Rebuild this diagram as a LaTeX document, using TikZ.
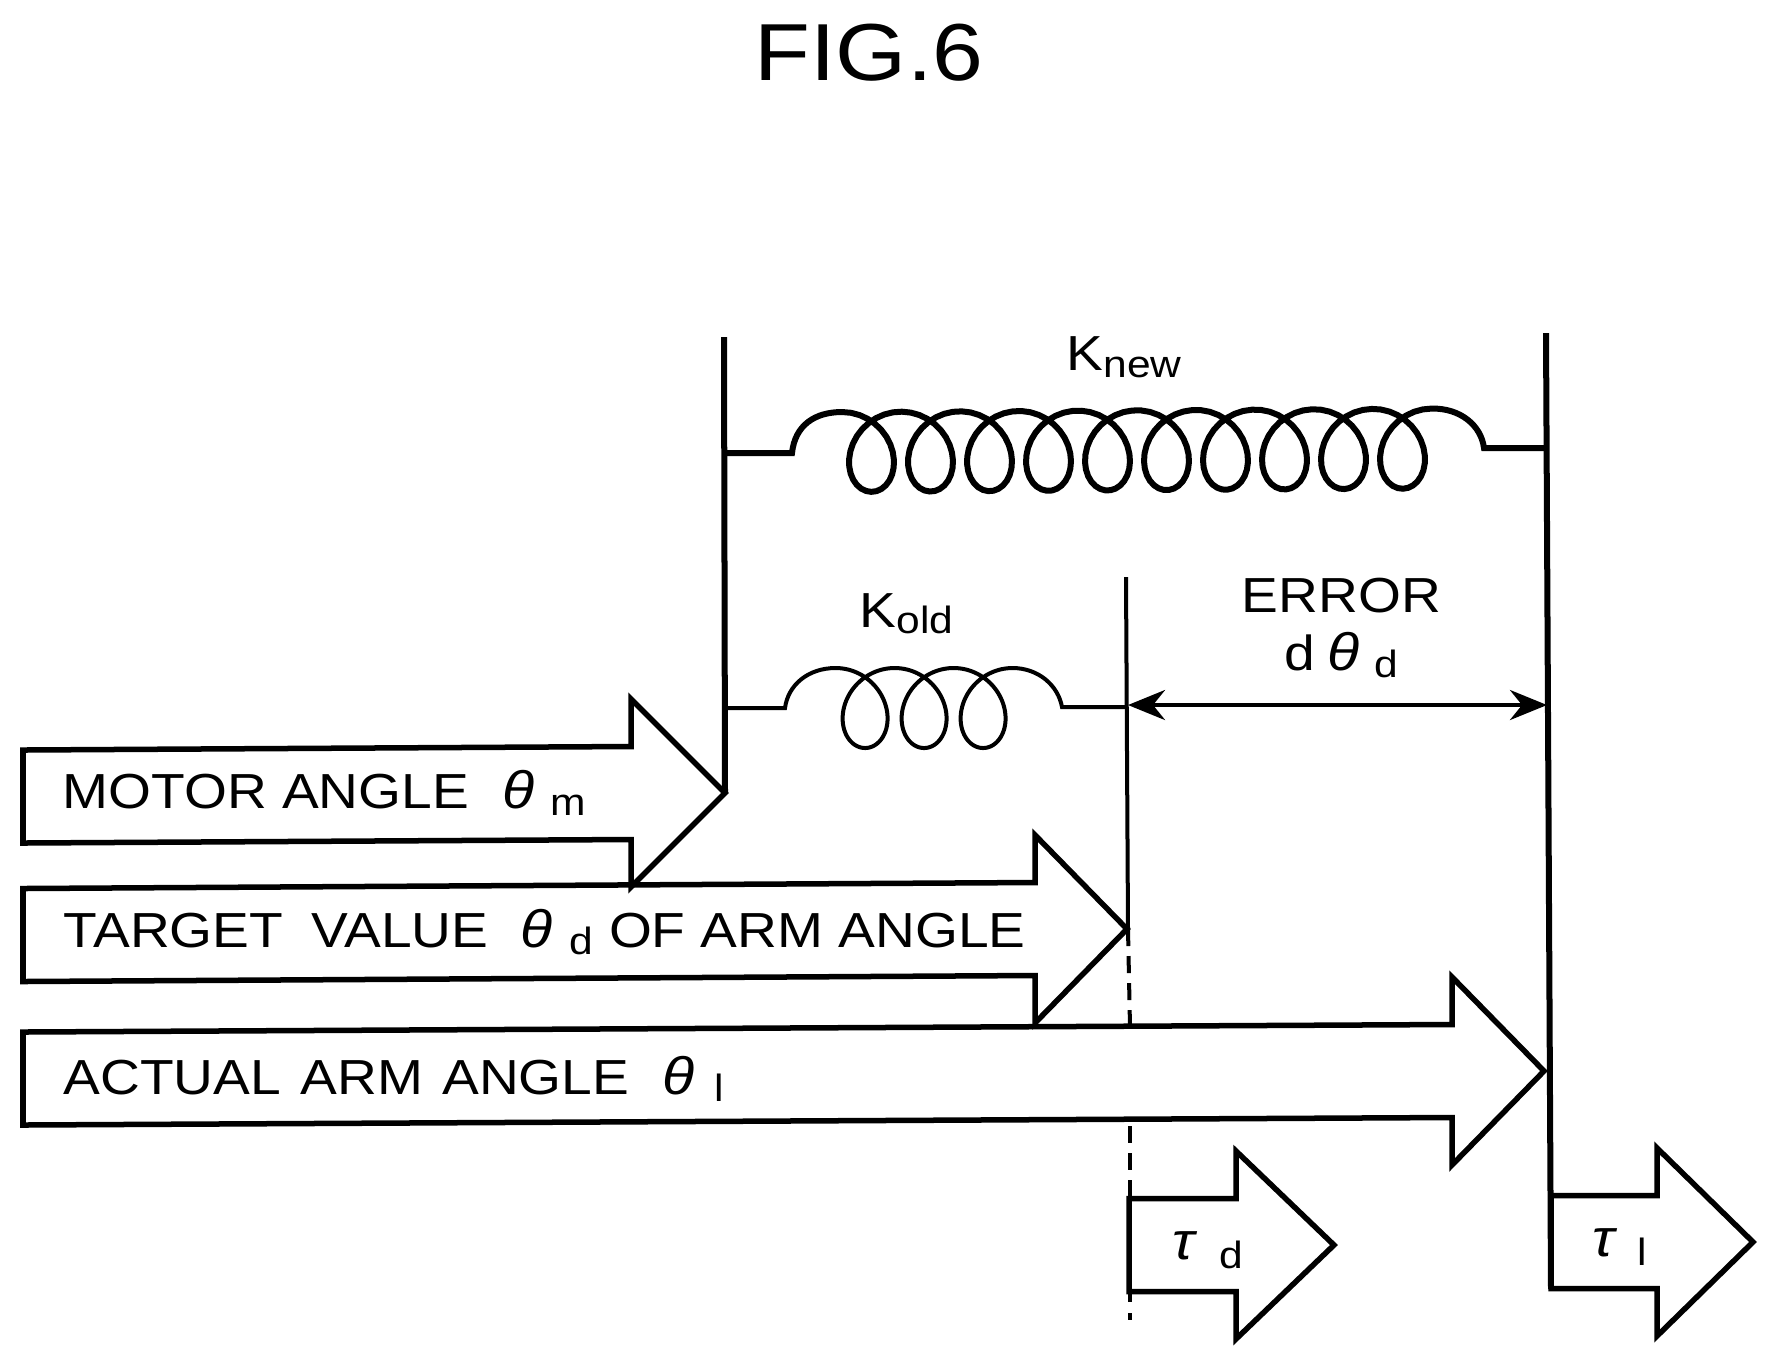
\documentclass[tikz,border=0pt]{standalone}
\usepackage{fontspec}
\setmainfont{Liberation Sans}[FakeStretch=1.12]
\newfontfamily\titlefont{Liberation Sans}[FakeStretch=1.13]
\usetikzlibrary{calc,arrows.meta}
\newcommand{\mainsize}{\fontsize{14}{16}\selectfont}
\newcommand{\subsize}{\fontsize{10.8}{12}\selectfont}
\newcommand{\gk}[1]{{\fontsize{15}{16}\selectfont\itshape #1}}
\newcommand{\lowsub}[1]{\raisebox{-7\unitlength}{\subsize #1}}
\setlength{\unitlength}{0.01cm}
\newcommand{\makearrow}[5]{
	\draw[block] ($(#1,#4)+(0,-46.5+#5)$) -- (#2,#4-46.5) -- (#2,#4-94) -- (#3,#4)
		-- (#2,#4+94) -- (#2,#4+46.5) -- ($(#1,#4)+(0,46.5+#5)$) -- cycle;
}
\newcommand{\makecoil}[7]{
	\draw[#1] #2 -- plot[domain=0:#5, samples=320, variable=\t]
		({#3+9.39*\t+36*sin(\t r)},{#4-40*cos(\t r)-#6*\t}) #7;
}
\tikzset{
	block/.style={line width=0.055cm, line join=miter},
	wall/.style={line width=0.06cm},
	thin wall/.style={line width=0.04cm},
	label text/.style={inner sep=0pt, anchor=base west, font=\mainsize}
}

\begin{document}
\begin{tikzpicture}[x=0.01cm,y=-0.01cm]
	\useasboundingbox (0,0) rectangle (1766,1362);

	\coordinate (Mtop) at (724,337);
	\coordinate (Mtip) at (725,793);
	\coordinate (Dtop) at (1126,577);
	\coordinate (Dtip) at (1128,929);
	\coordinate (Dgap1) at (1130,1027);
	\coordinate (Dgap2) at (1130,1126);
	\coordinate (Dcorner) at (1130,1199);
	\coordinate (Dlow) at (1130,1292);
	\coordinate (Dend) at (1130,1320);
	\coordinate (Ltop) at (1546,333);
	\coordinate (Lbot) at (1551,1289);
	\coordinate (ErrL) at (1128,705);
	\coordinate (ErrR) at (1547,705);

	\node[font=\titlefont\fontsize{23}{24}\selectfont, inner sep=0pt, anchor=base west] (title) at (754,80) {FIG.6};

	\draw[wall] (Mtop) -- (Mtip);
	\draw[thin wall] (Dtop) -- (Dtip);
	\draw[wall] (Ltop) -- (Lbot);
	\draw[thin wall, dash pattern=on 0.17cm off 0.1cm] (Dtip) -- (Dgap1);
	\draw[thin wall, dash pattern=on 0.17cm off 0.1cm] (Dgap2) -- (Dcorner);
	\draw[thin wall, dash pattern=on 0.1cm off 0.11cm] (Dlow) -- (Dend);

	\makecoil{wall}{(724,453) -- (792,453) .. controls (795,425) and (815,412) .. (842,412)}{842}{452}{62.83}{0.055}
		{.. controls (1460,408) and (1481,425) .. (1484,448) -- (1546,448)}
	\makecoil{thin wall}{(724,708) -- (785,708) .. controls (788,685) and (808,668) .. (835.6,668)}{835.6}{708}{18.85}{0}
		{.. controls (1038,668) and (1058,685) .. (1062,707) -- (1126,707)}

	\draw[line width=0.04cm, {Stealth[length=0.37cm,width=0.3cm]}-{Stealth[length=0.37cm,width=0.3cm]}] (ErrL) -- (ErrR);

	\makearrow{23}{631}{725}{793}{3.5}
	\makearrow{23}{1035}{1127}{929}{6}
	\makearrow{23}{1452}{1544}{1071}{7.5}
	\makearrow{1129}{1236}{1334}{1245}{0}
	\makearrow{1551}{1657}{1753}{1242}{0}

	\node[label text] (knew) at (1066,370) {K\raisebox{-7\unitlength}{\subsize new}};
	\node[label text] (kold) at (859,627) {K\raisebox{-6\unitlength}{\subsize old}};
	\node[label text] (error) at (1241,612) {ERROR};
	\node[label text] (derr) at (1284,670) {d\hspace{12\unitlength}\gk{θ}\hspace{15\unitlength}\lowsub{d}};
	\node[label text] (motor) at (62,808) {MOTOR ANGLE\hspace{33\unitlength}\gk{θ}\hspace{16\unitlength}\lowsub{m}};
	\node[label text] (target) at (63,947) {TARGET\hspace{13\unitlength} VALUE\hspace{32\unitlength}\gk{θ}\hspace{17\unitlength}\lowsub{d}\hspace{16\unitlength}OF ARM ANGLE};
	\node[label text] (actual) at (63,1094) {ACTUAL\hspace{4\unitlength} ARM\hspace{4\unitlength} ANGLE\hspace{33\unitlength}\gk{θ}\hspace{20\unitlength}\lowsub{l}};
	\node[label text] (taud) at (1172,1259) {\gk{τ}\hspace{25\unitlength}\raisebox{-9\unitlength}{\subsize d}};
	\node[label text] (taul) at (1592,1256) {\gk{τ}\hspace{23\unitlength}\raisebox{-9\unitlength}{\subsize l}};
\end{tikzpicture}
\end{document}
